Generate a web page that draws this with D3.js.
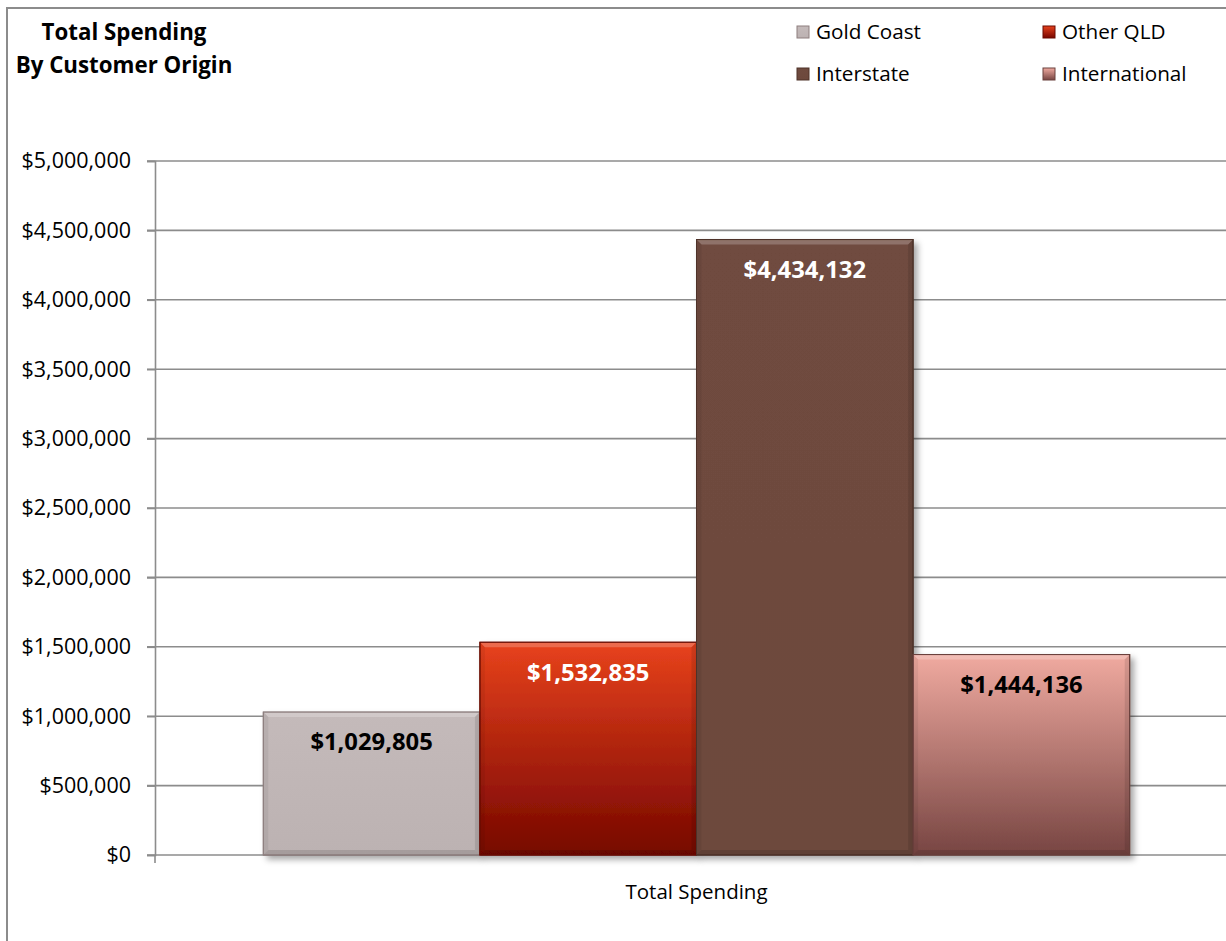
<!DOCTYPE html>
<html><head><meta charset="utf-8">
<script src="https://cdn.jsdelivr.net/npm/d3@7/dist/d3.min.js"></script>
<style>html,body{margin:0;padding:0;background:#fff}svg{display:block}</style>
</head><body>
<script>
const categories = ["Total Spending"];
const series = ["Gold Coast", "Other QLD", "Interstate", "International"];
const values = [1029805, 1532835, 4434132, 1444136];
const yTicks = [0, 500000, 1000000, 1500000, 2000000, 2500000, 3000000, 3500000, 4000000, 4500000, 5000000];
const titleLines = ["Total Spending", "By Customer Origin"];

const W = 1226, H = 941;
const svg = d3.select("body").append("svg").attr("width", W).attr("height", H);
const defs = svg.append("defs");
const font = "'Open Sans', 'Noto Sans', sans-serif";

// styles per series
const styles = [
  {top: "#c4baba", bot: "#bcb2b2", edge: "#8e7f7f", label: "#000"},
  {top: "#e8421c", bot: "#760600", edge: "#6a0a00", label: "#fff"},
  {top: "#6f4b3f", bot: "#6d493d", edge: "#4e3229", label: "#fff"},
  {top: "#f0aaa0", bot: "#774542", edge: "#6a403c", label: "#000"}
];
styles.forEach((s, i) => {
  const g = defs.append("linearGradient").attr("id", "g" + i).attr("x1", 0).attr("y1", 0).attr("x2", 0).attr("y2", 1);
  g.append("stop").attr("offset", "0%").attr("stop-color", s.top);
  g.append("stop").attr("offset", "100%").attr("stop-color", s.bot);
});
const f = defs.append("filter").attr("id", "shadow").attr("x", "-10%").attr("y", "-10%").attr("width", "130%").attr("height", "130%");
f.append("feDropShadow").attr("dx", 4).attr("dy", 4).attr("stdDeviation", 3).attr("flood-color", "#000").attr("flood-opacity", 0.35);

// frame
svg.append("rect").attr("x", 7).attr("y", 8).attr("width", 1400).attr("height", 1200)
  .attr("fill", "none").attr("stroke", "#8c8c8c").attr("stroke-width", 2);

const plotL = 155, plotR = 1238, plotT = 161, plotB = 855;
const y = d3.scaleLinear().domain([0, 5000000]).range([plotB, plotT]);
const x0 = d3.scaleBand().domain(categories).range([plotL, plotR]).padding(0);
const x1 = d3.scaleBand().domain(series).range([0, x0.bandwidth()]).paddingInner(0).paddingOuter(0.5);

// grid
svg.append("g").selectAll("line").data(yTicks).join("line")
  .attr("x1", plotL - 8).attr("x2", plotR).attr("y1", d => y(d)).attr("y2", d => y(d))
  .attr("stroke", "#8c8c8c").attr("stroke-width", 1.6);

// y axis
const yAxis = svg.append("g").attr("transform", `translate(${plotL},0)`)
  .call(d3.axisLeft(y).tickValues(yTicks).tickSize(8).tickPadding(16).tickFormat(d => "$" + d3.format(",")(d)));
yAxis.select(".domain").attr("stroke", "#8c8c8c").attr("stroke-width", 1.6);
yAxis.selectAll(".tick line").attr("stroke", "#8c8c8c").attr("stroke-width", 1.6);
yAxis.selectAll("text").attr("font-family", font).attr("font-size", 21.5).attr("fill", "#000");

// x axis
const xAxis = svg.append("g").attr("transform", `translate(0,${plotB})`)
  .call(d3.axisBottom(x0).tickSize(0).tickPadding(0));
xAxis.select(".domain").remove();
xAxis.selectAll("text").attr("font-family", font).attr("font-size", 20.5).attr("fill", "#000")
  .attr("y", 44).attr("dy", 0);
svg.append("line").attr("x1", plotL).attr("x2", plotL).attr("y1", plotB).attr("y2", plotB + 8)
  .attr("stroke", "#8c8c8c").attr("stroke-width", 1.6);

// bars
const bars = svg.append("g");
categories.forEach(cat => {
  series.forEach((s, i) => {
    const v = values[i];
    const bx = x0(cat) + x1(s), bw = x1.bandwidth();
    const by = y(v), bh = y(0) - y(v);
    const st = styles[i];
    const g = bars.append("g");
    g.append("rect").attr("x", bx).attr("y", by).attr("width", bw).attr("height", bh)
      .attr("fill", `url(#g${i})`).attr("stroke", st.edge).attr("stroke-width", 1).attr("filter", "url(#shadow)");
    const b = 5;
    g.append("path").attr("d", `M${bx},${by}L${bx + bw},${by}L${bx + bw - b},${by + b}L${bx + b},${by + b}Z`)
      .attr("fill", "#fff").attr("opacity", 0.22);
    g.append("path").attr("d", `M${bx},${by + bh}L${bx + bw},${by + bh}L${bx + bw - b},${by + bh - b}L${bx + b},${by + bh - b}Z`)
      .attr("fill", "#000").attr("opacity", 0.12);
    g.append("path").attr("d", `M${bx},${by}L${bx + b},${by + b}L${bx + b},${by + bh - b}L${bx},${by + bh}Z`)
      .attr("fill", "#000").attr("opacity", 0.06);
    g.append("path").attr("d", `M${bx + bw},${by}L${bx + bw - b},${by + b}L${bx + bw - b},${by + bh - b}L${bx + bw},${by + bh}Z`)
      .attr("fill", "#000").attr("opacity", 0.1);
    g.append("rect").attr("x", bx).attr("y", by).attr("width", bw).attr("height", bh)
      .attr("fill", "none").attr("stroke", st.edge).attr("stroke-width", 1);
    g.append("text").attr("x", bx + bw / 2).attr("y", by + 30).attr("dy", "0.35em")
      .attr("text-anchor", "middle").attr("font-family", font).attr("font-weight", "bold")
      .attr("font-size", 23.8).attr("fill", st.label).text("$" + d3.format(",")(v));
  });
});

// title
svg.append("g").selectAll("text").data(titleLines).join("text")
  .attr("x", 124).attr("y", (d, i) => 40 + i * 33).attr("text-anchor", "middle")
  .attr("font-family", font).attr("font-weight", "bold").attr("font-size", 22.3).attr("fill", "#000")
  .text(d => d);

// legend
const legPos = [[797, 32], [1043, 32], [797, 74], [1043, 74]];
const lg = svg.append("g");
series.forEach((s, i) => {
  const [lx, ly] = legPos[i];
  lg.append("rect").attr("x", lx).attr("y", ly - 6).attr("width", 12).attr("height", 12)
    .attr("fill", `url(#g${i})`).attr("stroke", styles[i].edge).attr("stroke-width", 1);
  lg.append("text").attr("x", lx + 19).attr("y", ly).attr("dy", "0.35em")
    .attr("font-family", font).attr("font-size", 20.7).attr("fill", "#000").text(s);
});
</script>
</body></html>
